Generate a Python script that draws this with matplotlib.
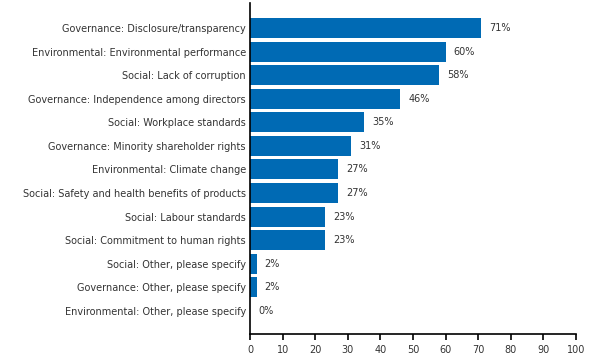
import matplotlib.pyplot as plt

categories = [
    "Governance: Disclosure/transparency",
    "Environmental: Environmental performance",
    "Social: Lack of corruption",
    "Governance: Independence among directors",
    "Social: Workplace standards",
    "Governance: Minority shareholder rights",
    "Environmental: Climate change",
    "Social: Safety and health benefits of products",
    "Social: Labour standards",
    "Social: Commitment to human rights",
    "Social: Other, please specify",
    "Governance: Other, please specify",
    "Environmental: Other, please specify",
]
values = [71, 60, 58, 46, 35, 31, 27, 27, 23, 23, 2, 2, 0]
ticks = list(range(0, 101, 10))

plt.rcParams['font.family'] = ['DejaVu Sans']
fig = plt.figure(figsize=(5.91, 3.56), dpi=100)
ax = fig.add_axes([250 / 591, 22 / 356, 326 / 591, 331 / 356])

pos = list(range(len(categories)))
ax.barh(pos, values, height=0.85, color='#006AB4')
for p, v in zip(pos, values):
    ax.text(v + 2.5, p, f"{v}%", va='center', ha='left', fontsize=7, color='#333333')

ax.set_yticks(pos)
ax.set_yticklabels(categories, fontsize=7, color='#333333')
ax.tick_params(axis='y', length=0, pad=3)
ax.set_xticks(ticks)
ax.tick_params(axis='x', labelsize=7, labelcolor='#333333', color='black',
               length=4, width=1.2, direction='out', pad=4)
ax.set_xlim(0, 100)
ax.set_ylim(12.98, -1.06)
for s in ['top', 'right']:
    ax.spines[s].set_visible(False)
ax.spines['left'].set_linewidth(1.2)
ax.spines['bottom'].set_linewidth(1.2)

fig.savefig('out.png', dpi=100)
